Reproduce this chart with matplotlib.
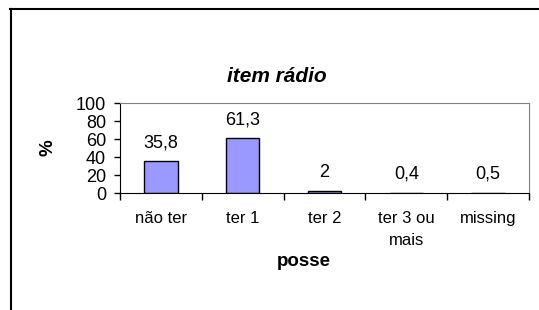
import matplotlib.pyplot as plt
import numpy as np
from matplotlib.lines import Line2D

plt.rcParams['font.family'] = ['Liberation Sans', 'DejaVu Sans']

categories = ['não ter', 'ter 1', 'ter 2', 'ter 3 ou\nmais', 'missing']
values = [35.8, 61.3, 2, 0.4, 0.5]
value_labels = ['35,8', '61,3', '2', '0,4', '0,5']

W, H = 539, 310
fig = plt.figure(figsize=(W / 100, H / 100), dpi=100)
ax = fig.add_axes([120 / W, 1 - 193 / H, (529 - 120) / W, (193 - 103) / H])

# outer chart frame (cut off at right and bottom)
fig.add_artist(Line2D([10.5 / W, 10.5 / W], [1 - 8.5 / H, 0], color='black', lw=1.5))
fig.add_artist(Line2D([10 / W, 1], [1 - 8.5 / H, 1 - 8.5 / H], color='black', lw=1.5))

x = np.arange(len(categories))
ax.bar(x, values, width=0.41, color='#9999ff', edgecolor='black', linewidth=1)

for xi, v, lab in zip(x, values, value_labels):
    ax.annotate(lab, (xi, v), xytext=(0, 7), textcoords='offset points',
                ha='center', va='bottom', fontsize=13)

ax.set_xlim(-0.5, len(categories) - 0.5)
ax.set_ylim(0, 100)
ax.set_yticks([0, 20, 40, 60, 80, 100])
ax.tick_params(axis='y', labelsize=13, length=4, width=1, pad=6)

ax.set_xticks(x)
ax.set_xticklabels(categories, fontsize=12, linespacing=1.6, va='top')
ax.set_xticks(np.arange(len(categories) + 1) - 0.5, minor=True)
ax.tick_params(axis='x', which='major', length=0, pad=13)
ax.tick_params(axis='x', which='minor', length=5, width=1)

for s in ['top', 'right']:
    ax.spines[s].set_color('#808080')
for s in ['left', 'bottom']:
    ax.spines[s].set_color('black')

fig.text(277 / W, 1 - 77 / H, 'item rádio', fontsize=15, fontweight='bold',
         fontstyle='italic', ha='center', va='center')
fig.text(304 / W, 1 - 261 / H, 'posse', fontsize=13.5, fontweight='bold',
         ha='center', va='center')
fig.text(48 / W, 1 - 148 / H, '%', fontsize=13.5, fontweight='bold',
         rotation=90, ha='center', va='center')

fig.savefig('out.png', dpi=100)
